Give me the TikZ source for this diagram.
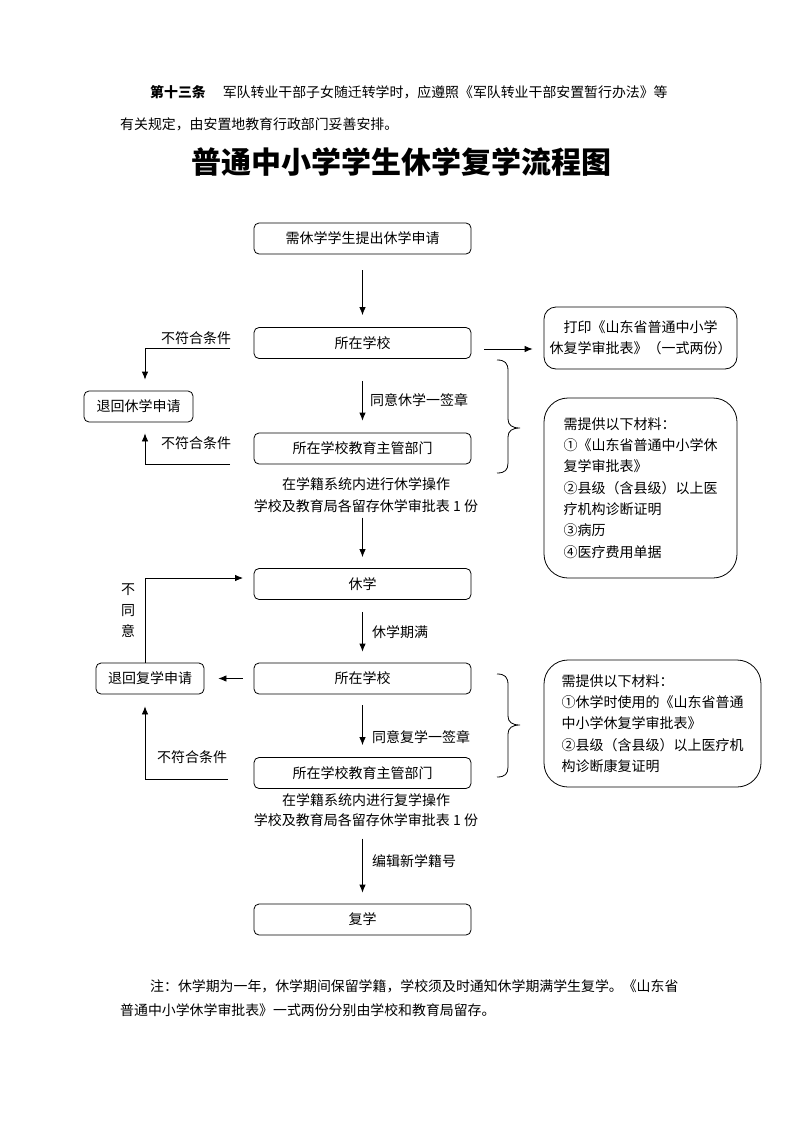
\documentclass[tikz,border=0pt]{standalone}
\usepackage{fontspec}
\setmainfont{Noto Sans CJK SC}
\usetikzlibrary{arrows.meta}
\newcommand\myfs{\fontsize{14pt}{21.3pt}\selectfont}
\newcommand\mysmall{\fontsize{13.9pt}{20pt}\selectfont}
\tikzset{
  box/.style={draw, line width=0.8pt, rounded corners=5pt, minimum width=217pt, minimum height=31pt, inner sep=0pt, font=\myfs},
  sidebox/.style={draw, line width=0.8pt, rounded corners=5pt, minimum height=31pt, inner sep=0pt, font=\myfs},
  infobox/.style={draw, line width=0.8pt, rounded corners=24pt, inner sep=0pt, font=\myfs, align=left},
  lbl/.style={inner sep=0pt, font=\myfs},
  arr/.style={line width=0.8pt, -{Latex[length=8pt,width=6.5pt]}},
  ln/.style={line width=0.8pt},
}
\begin{document}
\begin{tikzpicture}[x=1pt,y=-1pt]
\useasboundingbox (0,0) rectangle (800,1132);
\fill[white] (0,0) rectangle (800,1132);

% header text
\node[lbl, anchor=west, font=\mysmall] (h1) at (150,92) {\textbf{第十三条}\hspace{17pt}军队转业干部子女随迁转学时，应遵照《军队转业干部安置暂行办法》等};
\node[lbl, anchor=west, font=\mysmall] (h2) at (120,124) {有关规定，由安置地教育行政部门妥善安排。};
\node[lbl, font=\fontsize{30pt}{34pt}\selectfont\bfseries] (title) at (401,162) {普通中小学学生休学复学流程图};

% main boxes
\node[box] (B1) at (362.5,238.5) {需休学学生提出休学申请};
\node[box] (B2) at (362.5,343) {所在学校};
\node[box] (B3) at (362.5,448.5) {所在学校教育主管部门};
\node[box] (B4) at (362.5,584) {休学};
\node[box] (B5) at (362.5,678.5) {所在学校};
\node[box] (B6) at (362.5,773) {所在学校教育主管部门};
\node[box] (B7) at (362.5,919.5) {复学};

% side boxes
\node[sidebox, minimum width=109pt] (r1) at (138.5,406.5) {退回休学申请};
\node[sidebox, minimum width=108pt] (r2) at (150,678.5) {退回复学申请};

% info boxes
\node[infobox, align=center, rounded corners=12pt, minimum width=193pt, minimum height=62pt] (p1) at (640.5,338) {打印《山东省普通中小学\\休复学审批表》（一式两份）};
\node[infobox, minimum width=193pt, minimum height=180pt] (m1) at (640.5,488) {需提供以下材料：\\①《山东省普通中小学休\\复学审批表》\\②县级（含县级）以上医\\疗机构诊断证明\\③病历\\④医疗费用单据};
\node[infobox, minimum width=217pt, minimum height=127pt] (m2) at (652.5,723.5) {需提供以下材料：\\①休学时使用的《山东省普通\\中小学休复学审批表》\\②县级（含县级）以上医疗机\\构诊断康复证明};

% middle texts
\node[lbl, align=center, font=\fontsize{14pt}{22pt}\selectfont] (t1) at (366,495) {在学籍系统内进行休学操作\\学校及教育局各留存休学审批表 1 份};
\node[lbl, align=center, font=\fontsize{14pt}{20pt}\selectfont] (t2) at (366,810) {在学籍系统内进行复学操作\\学校及教育局各留存休学审批表 1 份};

% labels
\node[lbl] (l1) at (196,338) {不符合条件};
\node[lbl] (l2) at (196,443) {不符合条件};
\node[lbl] (l3) at (192,757) {不符合条件};
\node[lbl, anchor=west] (l4) at (370,400) {同意休学一签章};
\node[lbl, anchor=west] (l5) at (372,632) {休学期满};
\node[lbl, anchor=west] (l6) at (372,737) {同意复学一签章};
\node[lbl, anchor=west] (l7) at (372,861) {编辑新学籍号};
\node[lbl, align=center, font=\fontsize{14pt}{21pt}\selectfont] (l8) at (128,611) {不\\同\\意};

% coordinates for free ends
\coordinate (n1) at (230,348);
\coordinate (n2) at (230,464);
\coordinate (n3) at (243,578);
\coordinate (n4) at (228,779);
\coordinate (c1) at (484,349);

% vertical flow arrows
\draw[arr, shorten <=16pt, shorten >=12pt] (B1) -- (B2);
\draw[arr, shorten <=22pt, shorten >=12pt] (B2) -- (B3);
\draw[arr, shorten <=5pt, shorten >=11pt] (t1.south -| B4.north) -- (B4.north);
\draw[arr, shorten <=12pt, shorten >=11pt] (B4) -- (B5);
\draw[arr, shorten <=11pt, shorten >=12pt] (B5) -- (B6);
\draw[arr, shorten <=12pt, shorten >=11pt] (t2.south -| B7.north) -- (B7.north);

% side arrows
\draw[arr, shorten >=11pt] (c1) -- (c1 -| p1.west);
\draw[arr, shorten >=11pt] (n1) -| ([xshift=6.5pt]r1.north);
\draw[arr, shorten >=11pt] (n2) -| ([xshift=6.5pt]r1.south);
\draw[arr] ([xshift=-5pt]r2.north) |- (n3);
\draw[arr, shorten <=11pt, shorten >=14pt] (B5) -- (r2);
\draw[arr, shorten >=12pt] (n4) -| ([xshift=-5pt]r2.south);

% braces
\draw[ln] (497,360) .. controls (505,360) and (508,363) .. (508,371) -- (508,419) .. controls (508,425) and (512,428) .. (520,428) .. controls (512,428) and (508,431) .. (508,437) -- (508,463) .. controls (508,470) and (505,473) .. (497,473);
\draw[ln] (497,674) .. controls (505,674) and (508,677) .. (508,685) -- (508,716) .. controls (508,722) and (512,725) .. (520,725) .. controls (512,725) and (508,728) .. (508,734) -- (508,767) .. controls (508,774) and (505,777) .. (497,777);

% note
\node[lbl, anchor=west, font=\mysmall] (note1) at (150,986) {注：休学期为一年，休学期间保留学籍，学校须及时通知休学期满学生复学。《山东省};
\node[lbl, anchor=west, font=\mysmall] (note2) at (120,1010) {普通中小学休学审批表》一式两份分别由学校和教育局留存。};
\end{tikzpicture}
\end{document}
